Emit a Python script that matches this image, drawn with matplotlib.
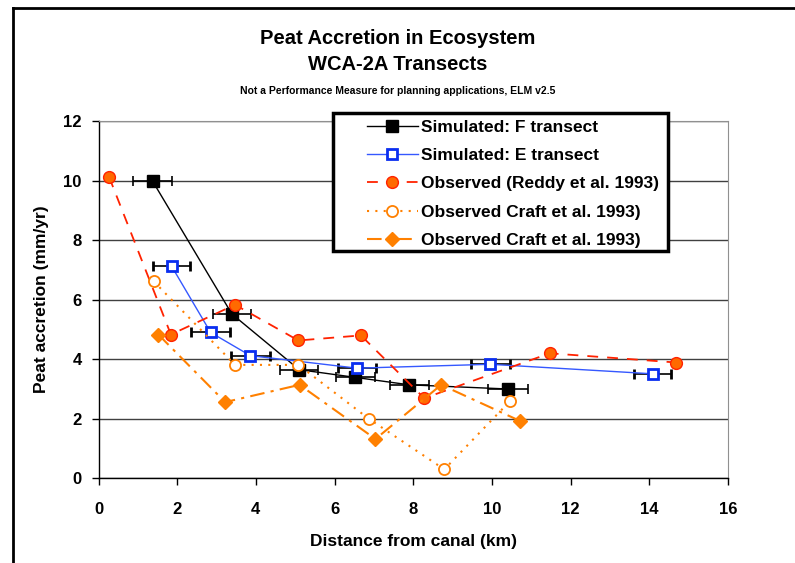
import matplotlib
matplotlib.use("Agg")
import matplotlib.pyplot as plt
from matplotlib.lines import Line2D
from matplotlib.patches import Rectangle

# Simulated transects (distance km, accretion mm/yr, +/- distance spread)
f_dist = [1.38, 3.39, 5.10, 6.53, 7.90, 10.41]
f_accr = [9.97, 5.52, 3.65, 3.39, 3.14, 3.00]
f_xerr = [0.50, 0.49, 0.48, 0.49, 0.50, 0.50]

e_dist = [1.86, 2.85, 3.86, 6.57, 9.96, 14.09]
e_accr = [7.12, 4.90, 4.12, 3.70, 3.83, 3.51]
e_xerr = [0.47, 0.49, 0.49, 0.49, 0.50, 0.47]

# Observed cores
reddy_dist = [0.27, 1.84, 3.47, 5.08, 6.67, 8.28, 11.47, 14.69]
reddy_accr = [10.12, 4.83, 5.83, 4.63, 4.80, 2.69, 4.20, 3.89]

craft1_dist = [1.40, 3.47, 5.08, 6.87, 8.79, 10.47]
craft1_accr = [6.62, 3.81, 3.81, 2.00, 0.30, 2.61]

craft2_dist = [1.52, 3.22, 5.11, 7.04, 8.71, 10.71]
craft2_accr = [4.83, 2.56, 3.14, 1.32, 3.14, 1.93]

x_ticks = [0, 2, 4, 6, 8, 10, 12, 14, 16]
y_ticks = [0, 2, 4, 6, 8, 10, 12]

FONT = ["Liberation Sans Narrow", "Liberation Sans", "DejaVu Sans"]
ORANGE = "#FF8000"
RED = "#FF2200"
REDDY_FILL = "#FF6A00"
BLUE = "#0A2EF0"

plt.rcParams["font.family"] = ["Liberation Sans", "DejaVu Sans"]
plt.rcParams["font.weight"] = "bold"

fig = plt.figure(figsize=(7.95, 5.63), dpi=100)
ax = fig.add_axes([0.1239, 0.1504, 0.7918, 0.6346])

h_f = ax.errorbar(f_dist, f_accr, xerr=f_xerr, color="black", linewidth=1.0,
                  marker="s", markersize=8.5, markerfacecolor="black", markeredgecolor="black",
                  ecolor="black", elinewidth=1.2, capsize=3.5, capthick=1.2,
                  label="Simulated: F transect", zorder=3)
h_e = ax.errorbar(e_dist, e_accr, xerr=e_xerr, color="#3558FF", linewidth=1.0,
                  marker="s", markersize=7, markerfacecolor="white", markeredgecolor=BLUE,
                  markeredgewidth=2.0, ecolor="black", elinewidth=1.2, capsize=3.5, capthick=1.2,
                  label="Simulated: E transect", zorder=3)
h_r, = ax.plot(reddy_dist, reddy_accr, color=RED, linewidth=1.3, linestyle=(0, (6, 5)),
               marker="o", markersize=8.5, markerfacecolor=REDDY_FILL, markeredgecolor=RED,
               markeredgewidth=1.0, label="Observed (Reddy et al. 1993)", zorder=4)
h_c1, = ax.plot(craft1_dist, craft1_accr, color=ORANGE, linewidth=1.5, linestyle=(0, (1, 3)),
                marker="o", markersize=8, markerfacecolor="white", markeredgecolor=ORANGE,
                markeredgewidth=1.3, label="Observed Craft et al. 1993)", zorder=5)
h_c2, = ax.plot(craft2_dist, craft2_accr, color=ORANGE, linewidth=1.5,
                linestyle=(0, (7, 3, 1.5, 3)),
                marker="D", markersize=7.5, markerfacecolor=ORANGE, markeredgecolor=ORANGE,
                label="Observed Craft et al. 1993)", zorder=5)

ax.set_xlim(0, 16)
ax.set_ylim(0, 12)
ax.set_xticks(x_ticks)
ax.set_yticks(y_ticks)
ax.set_xticklabels([str(t) for t in x_ticks], fontsize=12, fontweight="bold")
ax.set_yticklabels([str(t) for t in y_ticks], fontsize=12, fontweight="bold")
ax.tick_params(direction="out", length=5, width=1)
ax.tick_params(axis="x", pad=12)
ax.tick_params(axis="y", pad=7)
ax.yaxis.grid(True, color="#404040", linewidth=1.0)
ax.set_axisbelow(True)
for side in ["top", "right"]:
    ax.spines[side].set_color("#909090")
for side in ["left", "bottom"]:
    ax.spines[side].set_color("black")
    ax.spines[side].set_linewidth(1.0)

ax.set_xlabel("Distance from canal (km)", fontsize=12.5, fontweight="bold", labelpad=12)
ax.set_ylabel("Peat accretion (mm/yr)", fontsize=12.5, fontweight="bold", labelpad=10)

# legend box drawn separately so the handles sit inset from the left edge
ax.add_patch(Rectangle((0.3725, 0.6362), 0.5322, 0.3862, transform=ax.transAxes,
                       facecolor="white", edgecolor="black", linewidth=2.5,
                       clip_on=False, zorder=9))
handles = [h_f[0], h_e[0], h_r, h_c1, h_c2]
labels = ["Simulated: F transect", "Simulated: E transect", "Observed (Reddy et al. 1993)",
          "Observed Craft et al. 1993)", "Observed Craft et al. 1993)"]
leg = ax.legend(handles, labels, loc="upper left", bbox_to_anchor=(0.4265, 1.003),
                frameon=False, fontsize=12.5, handlelength=2.93, borderpad=0,
                labelspacing=0.75, handletextpad=0.2, borderaxespad=0)
leg.set_zorder(10)
for t in leg.get_texts():
    t.set_fontweight("bold")

fig.text(0.5, 1 - 38 / 563, "Peat Accretion in Ecosystem", ha="center", va="center",
         fontsize=14.5, fontweight="bold", family=FONT)
fig.text(0.5, 1 - 65 / 563, "WCA-2A Transects", ha="center", va="center",
         fontsize=14.5, fontweight="bold", family=FONT)
fig.text(0.5, 1 - 90.5 / 563, "Not a Performance Measure for planning applications, ELM v2.5",
         ha="center", va="center", fontsize=7.5, fontweight="bold", family=FONT)

# chart area frame (left and top edges)
fig.add_artist(Line2D([13 / 795, 13 / 795], [0, 1 - 8 / 563], color="black", linewidth=2))
fig.add_artist(Line2D([13 / 795, 1], [1 - 8 / 563, 1 - 8 / 563], color="black", linewidth=2))

fig.savefig("out.png", dpi=100, facecolor="white")
